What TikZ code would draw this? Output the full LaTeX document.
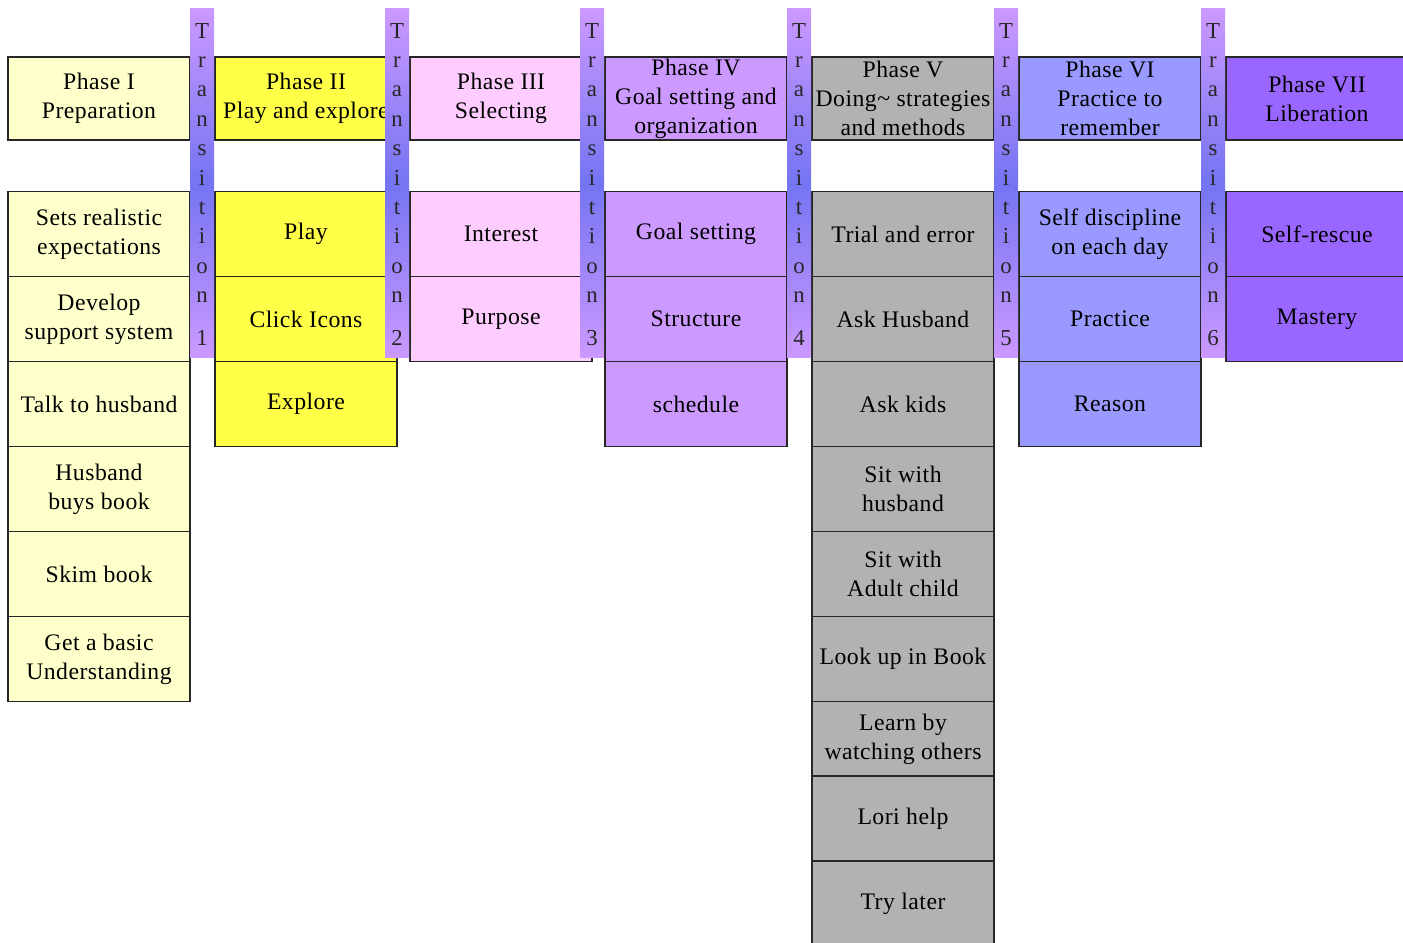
\documentclass[tikz,border=0pt]{standalone}
\usepackage{fontspec}
\setmainfont[LetterSpace=2]{Liberation Serif}
\usepackage{xcolor}
\usepackage{tikz}
\definecolor{prepcol}{HTML}{FFFFCC}
\definecolor{playcol}{HTML}{FFFF48}
\definecolor{selcol}{HTML}{FFCCFF}
\definecolor{goalcol}{HTML}{CC99FF}
\definecolor{docol}{HTML}{B2B2B2}
\definecolor{practcol}{HTML}{9999FF}
\definecolor{libcol}{HTML}{9966FF}
\definecolor{lilac}{HTML}{CC99FF}
\definecolor{glow}{HTML}{7474F2}

\begin{document}
\begin{tikzpicture}[x=0.02cm,y=-0.02cm,
    box/.style={draw=black!85,line width=1pt,minimum width=3.64cm,minimum height=1.7cm,
        align=center,inner sep=1pt,font=\fontsize{13.5}{16.5}\selectfont},
    head/.style={box,line width=0.8pt,minimum height=1.66cm},
    transbar/.style={minimum width=0.48cm,minimum height=7cm,inner sep=0pt,
        top color=lilac,bottom color=lilac,middle color=glow},
    letter/.style={inner sep=0pt,anchor=base,text=black!85,font=\fontsize{13}{13}\selectfont}]
    \useasboundingbox (0,0) rectangle (1403,943);

    \node[head,fill=prepcol] (p1) at (99,98.5) {Phase I\\Preparation};
    \node[head,fill=playcol] (p2) at (306,98.5) {Phase II\\Play and explore};
    \node[head,fill=selcol] (p3) at (501,98.5) {Phase III\\Selecting};
    \node[head,fill=goalcol] (p4) at (696,98.5) {Phase IV\\Goal setting and\\organization};
    \node[head,fill=docol] (p5) at (903,98.5) {Phase V\\Doing\textasciitilde{} strategies\\and methods};
    \node[head,fill=practcol] (p6) at (1110,98.5) {Phase VI\\Practice to\\remember};
    \node[head,fill=libcol] (p7) at (1317,98.5) {Phase VII\\Liberation};

    \node[box,fill=prepcol] (p1a) at (99,234) {Sets realistic\\expectations};
    \node[box,fill=prepcol] (p1b) at (99,319) {Develop\\support system};
    \node[box,fill=prepcol] (p1c) at (99,404) {Talk to husband};
    \node[box,fill=prepcol] (p1d) at (99,489) {Husband\\buys book};
    \node[box,fill=prepcol] (p1e) at (99,574) {Skim book};
    \node[box,fill=prepcol] (p1f) at (99,659) {Get a basic\\Understanding};

    \node[box,fill=playcol] (p2a) at (306,234) {Play};
    \node[box,fill=playcol] (p2b) at (306,319) {Click Icons};
    \node[box,fill=playcol] (p2c) at (306,404) {Explore};

    \node[box,fill=selcol] (p3a) at (501,234) {Interest};
    \node[box,fill=selcol] (p3b) at (501,319) {Purpose};

    \node[box,fill=goalcol] (p4a) at (696,234) {Goal setting};
    \node[box,fill=goalcol] (p4b) at (696,319) {Structure};
    \node[box,fill=goalcol] (p4c) at (696,404) {schedule};

    \node[box,fill=docol] (p5a) at (903,234) {Trial and error};
    \node[box,fill=docol] (p5b) at (903,319) {Ask Husband};
    \node[box,fill=docol] (p5c) at (903,404) {Ask kids};
    \node[box,fill=docol] (p5d) at (903,489) {Sit with\\husband};
    \node[box,fill=docol] (p5e) at (903,574) {Sit with\\Adult child};
    \node[box,fill=docol] (p5f) at (903,659) {Look up in Book};
    \node[box,fill=docol,minimum height=1.5cm] (p5g) at (903,739) {Learn by\\watching others};
    \node[box,fill=docol] (p5h) at (903,818.5) {Lori help};
    \node[box,fill=docol] (p5i) at (903,903.5) {Try later};

    \node[box,fill=practcol] (p6a) at (1110,234) {Self discipline\\on each day};
    \node[box,fill=practcol] (p6b) at (1110,319) {Practice};
    \node[box,fill=practcol] (p6c) at (1110,404) {Reason};

    \node[box,fill=libcol] (p7a) at (1317,234) {Self-rescue};
    \node[box,fill=libcol] (p7b) at (1317,319) {Mastery};

    \foreach \n/\x in {1/202,2/397,3/592,4/799,5/1006,6/1213}{
        \node[transbar] (t\n) at (\x,183) {};
        \foreach \c [count=\k from 0] in {T,r,a,n,s,i,t,i,o,n}
            \node[letter] (t\n-\k) at (\x,38+29.4*\k) {\c};
        \node[letter] (t\n-d) at (\x,345) {\n};
    }
\end{tikzpicture}
\end{document}
